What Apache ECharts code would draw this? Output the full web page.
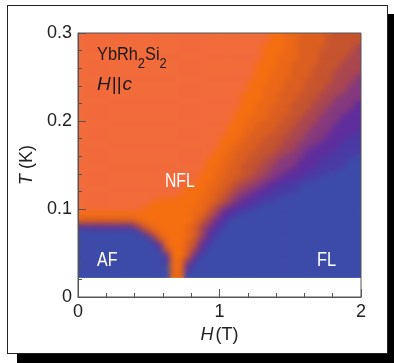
<!DOCTYPE html>
<html lang="en">
<head>
<meta charset="UTF-8">
<title>YbRh2Si2 phase diagram, H||c</title>
<script src="https://cdn.jsdelivr.net/npm/echarts@6/dist/echarts.min.js"></script>
<style>
    html, body { margin: 0; padding: 0; background: #fff; overflow: hidden; }
    /* white card with a hard black drop shadow */
    #frame {
        position: absolute; left: 7px; top: 5px;
        width: 379px; height: 347px;
        border: 1px solid #222;
        box-shadow: 10px 9px 0 #000;
        background: #fff;
    }
    .layer { position: absolute; left: 0; top: 0; width: 394px; height: 363px; }
    /* softened copy of the colour field, laid over the sharp one */
    #fieldSoft { filter: blur(3px); }
</style>
</head>
<body>
<div id="frame"></div>
<div id="field" class="layer"></div>
<div id="fieldSoft" class="layer"></div>
<div id="main" class="layer"></div>
<script>
// field H (T), cell centres
var hGrid = [0.025, 0.075, 0.125, 0.175, 0.225, 0.275, 0.325, 0.375, 0.425, 0.475,
             0.525, 0.575, 0.625, 0.675, 0.725, 0.775, 0.825, 0.875, 0.925, 0.975,
             1.025, 1.075, 1.125, 1.175, 1.225, 1.275, 1.325, 1.375, 1.425, 1.475,
             1.525, 1.575, 1.625, 1.675, 1.725, 1.775, 1.825, 1.875, 1.925, 1.975];

// temperature T (K), cell centres, top row first
var tGrid = [0.300, 0.295, 0.290, 0.285, 0.280, 0.275, 0.270, 0.265, 0.260, 0.255,
             0.250, 0.245, 0.240, 0.235, 0.230, 0.225, 0.220, 0.215, 0.210, 0.205,
             0.200, 0.195, 0.190, 0.185, 0.180, 0.175, 0.170, 0.165, 0.160, 0.155,
             0.150, 0.145, 0.140, 0.135, 0.130, 0.125, 0.120, 0.115, 0.110, 0.105,
             0.100, 0.095, 0.090, 0.085, 0.080, 0.075, 0.070, 0.065, 0.060, 0.055,
             0.050, 0.045, 0.040, 0.035, 0.030, 0.025];

// colour level per cell (0 = NFL orange-red ... 9 = FL/AF blue), one string per T row
var levelRows = [
    '0000000000 0000000000 0000000112 2233334444',
    '0000000000 0000000000 0000000112 2333344444',
    '0000000000 0000000000 0000000112 2333344444',
    '0000000000 0000000000 0000001112 2333344445',
    '0000000000 0000000000 0000001112 2333444445',
    '0000000000 0000000000 0000001122 2333444455',
    '0000000000 0000000000 0000001122 2333444455',
    '0000000000 0000000000 0000011122 3333444555',
    '0000000000 0000000000 0000011122 3334444555',
    '0000000000 0000000000 0000011222 3334445555',
    '0000000000 0000000000 0000011222 3334445556',
    '0000000000 0000000000 0000111223 3344445556',
    '0000000000 0000000000 0000112223 3344455566',
    '0000000000 0000000000 0000112223 3344455566',
    '0000000000 0000000000 0001112233 3444555666',
    '0000000000 0000000000 0001112233 3444556666',
    '0000000000 0000000000 0001122233 4445556667',
    '0000000000 0000000000 0001122333 4445566667',
    '0000000000 0000000000 0011122333 4455566677',
    '0000000000 0000000000 0011222334 4455666777',
    '0000000000 0000000000 0011223334 4555666777',
    '0000000000 0000000000 0112233344 4556667777',
    '0000000000 0000000000 0112233344 5556667777',
    '0000000000 0000000000 0112333444 5566677778',
    '0000000000 0000000000 1122334445 5566677788',
    '0000000000 0000000000 1123334445 5666777888',
    '0000000000 0000000000 1223344455 5667777888',
    '0000000000 0000000001 1233344455 6677778888',
    '0000000000 0000000001 2233444556 6677788889',
    '0000000000 0000000011 2233445566 6777888899',
    '0000000000 0000000011 2334445566 6777888899',
    '0000000000 0000000012 2334455666 7778888999',
    '0000000000 0000000112 2334455667 7788899999',
    '0000000000 0000000112 3344556677 7888999999',
    '0000000000 0000000122 3345566778 8899999999',
    '0000000000 0000011122 3455667788 8999999999',
    '0000000000 0000011123 3456677888 8999999999',
    '0000000000 0000111223 4566778889 9999999999',
    '0000000000 0111111223 4567788899 9999999999',
    '0000000000 1111111234 5677889999 9999999999',
    '0000000001 1111112235 6778899999 9999999999',
    '1111111111 1111112245 7789999999 9999999999',
    '2222222211 1111112356 7899999999 9999999999',
    '4444444432 1111112457 8999999999 9999999999',
    '7777777753 2111123567 8999999999 9999999999',
    '9999999985 3211123578 9999999999 9999999999',
    '9999999998 5211123578 9999999999 9999999999',
    '9999999999 8421124679 9999999999 9999999999',
    '9999999999 9721134789 9999999999 9999999999',
    '9999999999 9831135799 9999999999 9999999999',
    '9999999999 9961136899 9999999999 9999999999',
    '9999999999 9981147999 9999999999 9999999999',
    '9999999999 9982268999 9999999999 9999999999',
    '9999999999 9991179999 9999999999 9999999999',
    '9999999999 9992289999 9999999999 9999999999',
    '9999999999 9992299999 9999999999 9999999999'
];

var levelColors = ['#f26b3b', '#f56f10', '#ec6817', '#dc5f20', '#c6542e',
                   '#a94650', '#85397d', '#5f2d9c', '#4a3aa4', '#3d4ba8'];

var FONT = "'Liberation Sans', Arial, sans-serif";
var INK = '#222';
var AXIS = '#555';
var GRID = { left: 78, right: 33, top: 33, bottom: 66, containLabel: false, outerBoundsMode: 'none' };

var hStep = hGrid[1] - hGrid[0];
var tStep = tGrid[0] - tGrid[1];

var cells = [];
levelRows.forEach(function (row, r) {
    var levels = row.replace(/ /g, '');
    for (var c = 0; c < hGrid.length; c++) {
        cells.push([hGrid[c], tGrid[r], Number(levels.charAt(c))]);
    }
});

// one rectangle per cell, placed through the axes
function renderCell(params, api) {
    var h = api.value(0), t = api.value(1);
    var a = api.coord([h - hStep / 2, t + tStep / 2]);
    var b = api.coord([h + hStep / 2, t - tStep / 2]);
    return {
        type: 'rect',
        shape: { x: a[0], y: a[1], width: b[0] - a[0] + 0.6, height: b[1] - a[1] + 0.6 },
        style: { fill: api.visual('color') },
        silent: true
    };
}

function fieldOption() {
    return {
        animation: false,
        grid: Object.assign({ show: false }, GRID),
        visualMap: {
            type: 'continuous', show: false,
            min: 0, max: 9, dimension: 2, seriesIndex: 0,
            inRange: { color: levelColors }
        },
        xAxis: { type: 'value', min: 0, max: 2, show: false },
        yAxis: { type: 'value', min: 0, max: 0.3, show: false },
        series: [{
            type: 'custom',
            renderItem: renderCell,
            encode: { x: 0, y: 1 },
            data: cells,
            clip: true,
            progressive: 0,
            silent: true
        }]
    };
}

var field = echarts.init(document.getElementById('field'));
field.setOption(fieldOption());

var fieldSoft = echarts.init(document.getElementById('fieldSoft'));
fieldSoft.setOption(fieldOption());

// keep the softened copy inside the coloured rectangle
function clipSoft() {
    var el = document.getElementById('fieldSoft');
    var tl = fieldSoft.convertToPixel({ gridIndex: 0 }, [0, 0.3]);
    var br = fieldSoft.convertToPixel({ gridIndex: 0 }, [2, tGrid[tGrid.length - 1] - tStep / 2]);
    el.style.clipPath = 'inset(' + tl[1] + 'px ' + (el.clientWidth - br[0]) + 'px ' +
        (el.clientHeight - br[1]) + 'px ' + tl[0] + 'px)';
}
clipSoft();

var chart = echarts.init(document.getElementById('main'));

var option = {
    animation: false,
    grid: Object.assign({ show: true, borderColor: AXIS, borderWidth: 1, backgroundColor: 'transparent' }, GRID),
    xAxis: {
        type: 'value', min: 0, max: 2, interval: 1,
        name: '{i|H}(T)',
        nameLocation: 'middle', nameGap: 23,
        nameTextStyle: {
            fontSize: 18, color: INK, fontFamily: FONT,
            rich: { i: { fontSize: 18, color: INK, fontFamily: FONT, fontStyle: 'italic', padding: [0, 2, 0, 0] } }
        },
        axisLine: { show: true, onZero: false, lineStyle: { color: AXIS, width: 1 } },
        axisTick: { show: true, inside: true, length: 8, lineStyle: { color: AXIS } },
        minorTick: { show: true, splitNumber: 5, length: 4, lineStyle: { color: AXIS } },
        axisLabel: { fontSize: 18, color: INK, fontFamily: FONT, margin: 6 },
        splitLine: { show: false }
    },
    yAxis: {
        type: 'value', min: 0, max: 0.3, interval: 0.1,
        name: '{i|T} (K)',
        nameLocation: 'middle', nameRotate: 90, nameGap: 38,
        nameTextStyle: {
            fontSize: 18, color: INK, fontFamily: FONT,
            rich: { i: { fontSize: 18, color: INK, fontFamily: FONT, fontStyle: 'italic' } }
        },
        axisLine: { show: true, onZero: false, lineStyle: { color: AXIS, width: 1 } },
        axisTick: { show: true, inside: true, length: 8, lineStyle: { color: AXIS } },
        minorTick: { show: true, splitNumber: 5, length: 4, lineStyle: { color: AXIS } },
        axisLabel: { fontSize: 18, color: INK, fontFamily: FONT, margin: 6 },
        splitLine: { show: false }
    },
    series: [],
    graphic: [
        {
            type: 'text', x: 97, y: 45, scaleX: 0.86, z: 10,
            style: {
                text: '{a|YbRh}{s|2}{a|Si}{s|2}', verticalAlign: 'top', fill: '#1a1a1a',
                rich: {
                    a: { fontSize: 19, lineHeight: 20, fontFamily: FONT, fill: '#1a1a1a' },
                    s: { fontSize: 15, lineHeight: 14, padding: [17, 0, 0, 0], fontFamily: FONT, fill: '#1a1a1a' }
                }
            }
        },
        {
            type: 'text', x: 97, y: 75, z: 10,
            style: {
                text: '{i|H}{r|||}{i|c}', verticalAlign: 'top', fill: '#1a1a1a',
                rich: {
                    i: { fontSize: 19, lineHeight: 20, fontFamily: FONT, fontStyle: 'italic', fill: '#1a1a1a' },
                    r: { fontSize: 19, lineHeight: 20, fontFamily: FONT, fill: '#1a1a1a', padding: [0, 1, 0, 1] }
                }
            }
        },
        {
            type: 'text', x: 165, y: 171, scaleX: 0.75, z: 10,
            style: { text: 'NFL', font: '21px ' + FONT, fill: '#fff', verticalAlign: 'top' }
        },
        {
            type: 'text', x: 97, y: 250, scaleX: 0.76, z: 10,
            style: { text: 'AF', font: '21px ' + FONT, fill: '#fff', verticalAlign: 'top' }
        },
        {
            type: 'text', x: 317, y: 250, scaleX: 0.78, z: 10,
            style: { text: 'FL', font: '21px ' + FONT, fill: '#fff', verticalAlign: 'top' }
        }
    ]
};

chart.setOption(option);
window.addEventListener('resize', function () {
    field.resize();
    fieldSoft.resize();
    chart.resize();
    clipSoft();
});
</script>
</body>
</html>
